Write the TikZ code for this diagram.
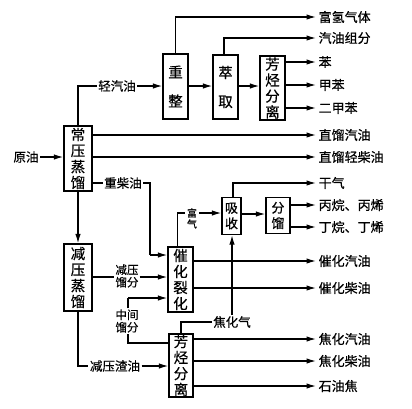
\documentclass[tikz,border=0pt]{standalone}
\usepackage{fontspec}
\setmainfont{Noto Sans CJK SC}[FakeBold=0.5]
\usetikzlibrary{arrows.meta}
\begin{document}
\begin{tikzpicture}[x=1pt,y=-1pt,
  line width=1.3pt,
  arr/.style={-{Latex[length=9.5pt,width=5.5pt]}},
  unit/.style={draw,line width=1.3pt,inner sep=0pt,align=center,font=\fontsize{14.5}{16}\selectfont},
  lbl/.style={inner sep=1pt,font=\fontsize{12.5}{13}\selectfont},
  outtxt/.style={anchor=west,inner sep=2pt,font=\fontsize{13}{14}\selectfont},
  small/.style={inner sep=0.5pt,align=center,font=\fontsize{11.5}{12.5}\selectfont}]
\useasboundingbox (0,0) rectangle (412,408);
% units
\node[unit,minimum width=28pt,minimum height=65pt] (cy) at (78,158.5) {常\\压\\蒸\\馏};
\node[unit,minimum width=25pt,minimum height=65pt,font=\fontsize{14.5}{29}\selectfont] (cz) at (175.5,86.5) {重\\整};
\node[unit,minimum width=25pt,minimum height=64pt,font=\fontsize{14.5}{29}\selectfont] (cq) at (225.5,87) {萃\\取};
\node[unit,minimum width=25pt,minimum height=64pt] (fl1) at (272.5,88) {芳\\烃\\分\\离};
\node[unit,minimum width=28pt,minimum height=67pt] (jy) at (78,277.5) {减\\压\\蒸\\馏};
\node[unit,minimum width=25pt,minimum height=65pt] (ch) at (180.5,279.5) {催\\化\\裂\\化};
\node[unit,minimum width=24pt,minimum height=63pt] (fl2) at (181,365.5) {芳\\烃\\分\\离};
\node[unit,minimum width=19pt,minimum height=37pt,font=\fontsize{13}{15.5}\selectfont] (xs) at (231.5,216) {吸\\收};
\node[unit,minimum width=24pt,minimum height=36pt,font=\fontsize{13}{15.5}\selectfont] (fm) at (278,215.5) {分\\馏};
% inputs / labels
\node[lbl] (yy) at (26,157) {原油};
\node[lbl] (qqy) at (117,86) {轻汽油};
\node[lbl] (zcy) at (123,183) {重柴油};
\node[small] (jylf) at (127,276) {减压\\馏分};
\node[small] (zjlf) at (127,321) {中间\\馏分};
\node[lbl] (jyzy) at (115,366) {减压渣油};
\node[small,font=\fontsize{10}{11}\selectfont] (fq) at (192,218.5) {富\\气};
\node[lbl] (jhq) at (232,322) {焦化气};
% outputs
\node[outtxt] (o1) at (316,17) {富氢气体};
\node[outtxt] (o2) at (316,38) {汽油组分};
\node[outtxt] (o3) at (316,62) {苯};
\node[outtxt] (o4) at (316,85) {甲苯};
\node[outtxt] (o5) at (316,108) {二甲苯};
\node[outtxt] (o6) at (316,135) {直馏汽油};
\node[outtxt] (o7) at (316,157) {直馏轻柴油};
\node[outtxt] (o8) at (316,183) {干气};
\node[outtxt] (o9) at (316,205) {丙烷、丙烯};
\node[outtxt] (o10) at (316,227) {丁烷、丁烯};
\node[outtxt] (o11) at (316,261) {催化汽油};
\node[outtxt] (o12) at (316,288) {催化柴油};
\node[outtxt] (o13) at (316,339) {焦化汽油};
\node[outtxt] (o14) at (316,361) {焦化柴油};
\node[outtxt] (o15) at (316,386) {石油焦};
% helper coordinates
\coordinate (zc1) at (150,183);
\coordinate (zc2) at (150,255);
\coordinate (zj1) at (128,343);
\coordinate (zj2) at (128,298);
\coordinate (fq1) at (185,213);
\coordinate (fq2) at (199,213);
\coordinate (jh1) at (181,322);
% connectors
\draw[arr] (yy.east) -- (cy.west |- yy.east);
\draw (cy.north) |- (qqy.west);
\draw[arr] (qqy.east) -- (cz.west |- qqy.east);
\draw[arr] (cz.north) |- (o1.west);
\draw[arr] (cz.east |- 0,86) -- (cq.west |- 0,86);
\draw[arr] ([xshift=-1.5pt]cq.north) |- (o2.west);
\draw[arr] (cq.east |- 0,86) -- (fl1.west |- 0,86);
\draw[arr] (fl1.east |- o3.west) -- (o3.west);
\draw[arr] (fl1.east |- o4.west) -- (o4.west);
\draw[arr] (fl1.east |- o5.west) -- (o5.west);
\draw[arr] (cy.east |- o6.west) -- (o6.west);
\draw[arr] (cy.east |- o7.west) -- (o7.west);
\draw (cy.east |- zcy.west) -- (zcy.west);
\draw (zcy.east) -- (zc1) -- (zc2);
\draw[arr] (zc2) -- (ch.west |- zc2);
\draw[arr] (cy.south) -- (jy.north);
\draw (jy.east |- 0,277) -- (jylf.west |- 0,277);
\draw[arr] (jylf.east |- 0,277) -- (ch.west |- 0,277);
\draw (fl2.west |- zj1) -- (zj1) -- (zjlf.south -| zj1);
\draw (zjlf.north -| zj2) -- (zj2);
\draw[arr] (zj2) -- (ch.west |- zj2);
\draw (jy.south) |- (jyzy.west);
\draw[arr] (jyzy.east) -- (fl2.west |- jyzy.east);
\draw ([xshift=-3pt]ch.north) |- (fq1);
\draw[arr] (fq2) -- (xs.west |- fq2);
\draw[arr] ([xshift=1.5pt]xs.north) |- (o8.west);
\draw[arr] (xs.east |- 0,214) -- (fm.west |- 0,214);
\draw[arr] (fm.east |- o9.west) -- (o9.west);
\draw[arr] (fm.east |- o10.west) -- (o10.west);
\draw[arr] (ch.east |- o11.west) -- (o11.west);
\draw[arr] (ch.east |- o12.west) -- (o12.west);
\draw (fl2.north) -- (jh1) -- (jhq.west);
\draw[arr] (jhq.north) -- (xs.south -| jhq.north);
\draw[arr] (fl2.east |- o13.west) -- (o13.west);
\draw[arr] (fl2.east |- o14.west) -- (o14.west);
\draw[arr] (fl2.east |- o15.west) -- (o15.west);
\end{tikzpicture}
\end{document}
